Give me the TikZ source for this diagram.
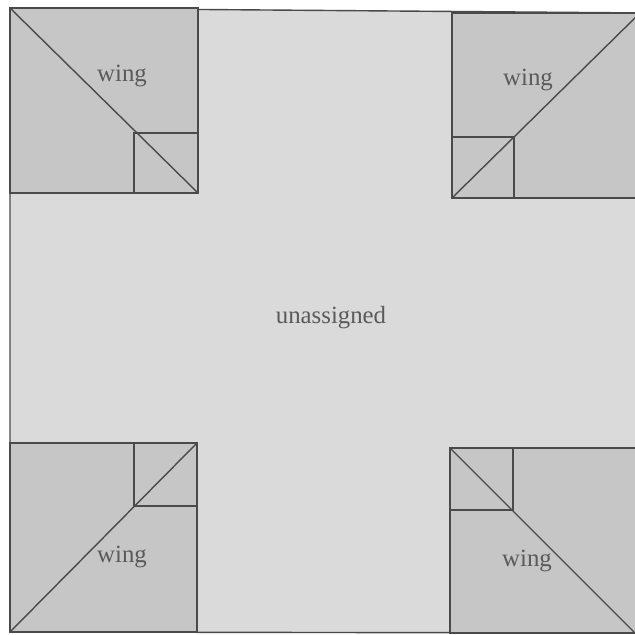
\documentclass[tikz,border=0pt]{standalone}
\usepackage{fontspec}
\setmainfont{Liberation Serif}
\definecolor{bggray}{HTML}{DADADA}
\definecolor{winggray}{HTML}{C6C6C6}
\definecolor{linegray}{HTML}{4A4A4A}
\definecolor{txtgray}{HTML}{5A5A5A}
\begin{document}
\begin{tikzpicture}[x=0.5pt,y=-0.5pt,
  edge/.style={draw=linegray,line width=0.7pt,line join=miter},
  wingbox/.style={fill=winggray,draw=linegray,line width=0.7pt},
  lbl/.style={text=txtgray,font=\fontsize{12.4}{14}\selectfont,inner sep=0pt}]
\useasboundingbox (0,0) rectangle (635,635);
\clip (0,0) rectangle (635,635);
\fill[white] (0,0) rectangle (635,635);
% outer frame
\filldraw[fill=bggray,edge] (10,8) -- (648,13) -- (648,633) -- (10,632) -- cycle;
% top-left wing
\filldraw[wingbox] (10,8) rectangle (198,193);
\draw[edge] (134,193) |- (198,133);
\draw[edge] (10,8) -- (198,193);
% top-right wing
\filldraw[wingbox] (452,13) rectangle (648,198);
\draw[edge] (452,137) -| (514,198);
\draw[edge] (452,198) -- (640,13);
% bottom-left wing
\filldraw[wingbox] (10,443) rectangle (197,632);
\draw[edge] (134,443) |- (197,506);
\draw[edge] (10,632) -- (197,443);
% bottom-right wing
\filldraw[wingbox] (450,448) rectangle (648,633);
\draw[edge] (450,510) -| (513,448);
\draw[edge] (450,448) -- (635,633);
% labels
\node[lbl] (wtl) at (122,76) {wing};
\node[lbl] (wtr) at (528,80) {wing};
\node[lbl] (wbl) at (122,557) {wing};
\node[lbl] (wbr) at (527,561) {wing};
\node[lbl] (un) at (331,318) {unassigned};
\end{tikzpicture}
\end{document}
